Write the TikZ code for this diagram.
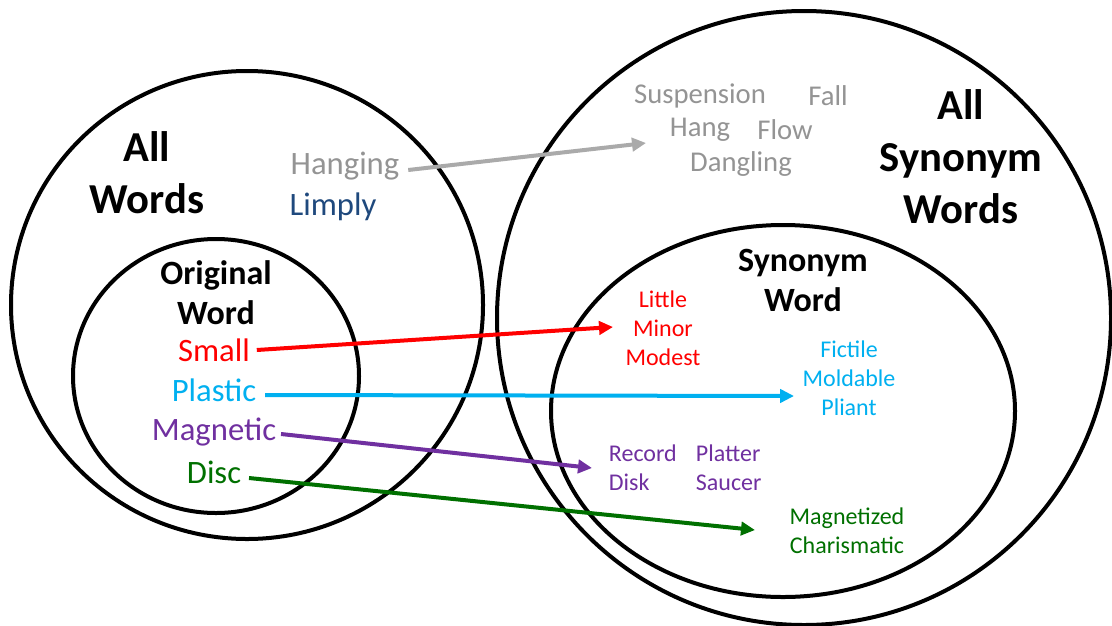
\documentclass[tikz,border=0pt]{standalone}
\usepackage{fontspec}
\setmainfont{Carlito}
\usetikzlibrary{arrows.meta}
\definecolor{wgray}{RGB}{148,148,148}
\definecolor{agray}{RGB}{170,170,170}
\definecolor{wnavy}{RGB}{31,73,125}
\definecolor{wred}{RGB}{255,0,0}
\definecolor{wcyan}{RGB}{0,176,240}
\definecolor{wpurple}{RGB}{112,48,160}
\definecolor{wgreen}{RGB}{0,112,0}
\begin{document}
\begin{tikzpicture}[x=0.75pt,y=-0.75pt,
  ring/.style={draw=black,line width=3pt},
  word/.style={inner sep=2pt,align=center},
  title/.style={word,font=\bfseries\fontsize{32}{39}\selectfont},
  subtitle/.style={word,font=\bfseries\fontsize{25.5}{30}\selectfont},
  big/.style={word,font=\fontsize{24.5}{30.5}\selectfont},
  mid/.style={word,font=\fontsize{21.5}{25.5}\selectfont},
  small/.style={word,font=\fontsize{18}{21.75}\selectfont},
  link/.style={line width=3pt,-{Triangle[length=10.5pt,width=10pt]}}]
\clip (0,0) rectangle (1112,625);
\fill[white] (0,0) rectangle (1112,625);

% the two pairs of nested sets
\draw[ring] (247,305) ellipse [x radius=236, y radius=234];
\draw[ring] (216,376) ellipse [x radius=143, y radius=137];
\draw[ring] (804,318) ellipse [x radius=307, y radius=307];
\draw[ring] (783,411) ellipse [x radius=232, y radius=186];

% left side: all words and the original words
\node[title] (allw) at (147,173) {All\\Words};
\node[big,text=wgray] (hanging) at (345,166) {Hanging};
\node[big,text=wnavy] (limply) at (333,207) {Limply};
\node[subtitle] (orig) at (216,293) {Original\\Word};
\node[big,text=wred] (small) at (214,350) {Small};
\node[big,text=wcyan] (plastic) at (214,390) {Plastic};
\node[big,text=wpurple] (magnetic) at (214,432) {Magnetic};
\node[big,text=wgreen] (disc) at (214,472) {Disc};

% right side: all synonyms and the synonym words
\node[title] (allsyn) at (961,157) {All\\Synonym\\Words};
\node[mid,text=wgray] (suspension) at (700,96) {Suspension};
\node[mid,text=wgray] (fall) at (828,96) {Fall};
\node[mid,text=wgray] (hang) at (700,130) {Hang};
\node[mid,text=wgray] (flow) at (785,130) {Flow};
\node[mid,text=wgray] (dangling) at (741,164) {Dangling};
\node[subtitle] (synw) at (803,280) {Synonym\\Word};
\node[small,text=wred] (little) at (663,328) {Little\\Minor\\Modest};
\node[small,text=wcyan] (fictile) at (849,378) {Fictile\\Moldable\\Pliant};
\node[small,text=wpurple,anchor=west,align=left] (record) at (606,468) {Record\\Disk};
\node[small,text=wpurple,anchor=west,align=left] (platter) at (693,468) {Platter\\Saucer};
\node[small,text=wgreen] (magnetized) at (847,531) {Magnetized\\Charismatic};

% free ends of the connectors
\coordinate (tipgray) at (646,143);
\coordinate (tipred) at (613,327);
\coordinate (tipcyan) at (794,396);
\coordinate (tippurple) at (592,468);
\coordinate (tipgreen) at (755,530);

\draw[link,agray] (hanging.east) ++(6,4) -- (tipgray);
\draw[link,wred] (small.east) ++(4,0) -- (tipred);
\draw[link,wcyan] (plastic.east) ++(6,5) -- (tipcyan);
\draw[link,wpurple] (magnetic.east) ++(2,2) -- (tippurple);
\draw[link,wgreen] (disc.east) ++(5,6) -- (tipgreen);
\end{tikzpicture}
\end{document}
